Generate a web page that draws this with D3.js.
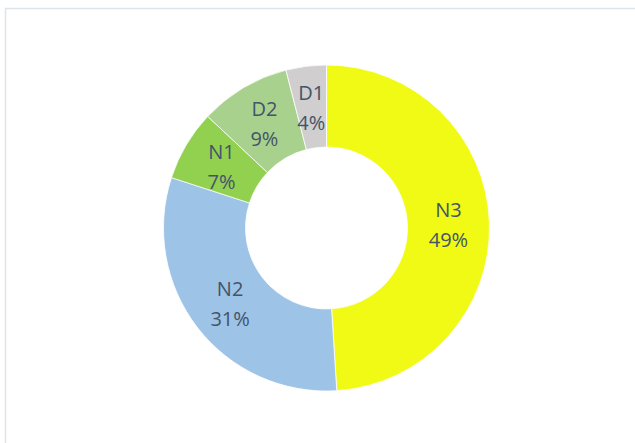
<!DOCTYPE html>
<html><head><meta charset="utf-8">
<script src="https://cdn.jsdelivr.net/npm/d3@7"></script>
<style>body{margin:0;background:#fff}svg{display:block}</style>
</head><body>
<script>
const categories = ["N3","N2","N1","D2","D1"];
const values = [49,31,7,9,4];
const colors = ["#f0fa14","#9dc3e6","#92d050","#a9d18e","#d0cece"];

const W=635,H=443;
const svg=d3.select("body").append("svg").attr("width",W).attr("height",H);
svg.append("rect").attr("x",5.5).attr("y",8.5).attr("width",W+10).attr("height",H+10)
  .attr("fill","#fff").attr("stroke","#dfe3ea").attr("stroke-width",1.5);

const cx=326.5,cy=228,R=163,r=81;
const data=categories.map((c,i)=>({c,v:values[i],col:colors[i]}));
const pie=d3.pie().value(d=>d.v).sort(null);
const arc=d3.arc().innerRadius(r).outerRadius(R);
const g=svg.append("g").attr("transform",`translate(${cx},${cy})`);
const arcs=pie(data);
g.selectAll("path").data(arcs).join("path").attr("d",arc)
  .attr("fill",d=>d.data.col).attr("stroke","#fff").attr("stroke-width",0.75);
const tot=d3.sum(values);
const lab=g.selectAll("text").data(arcs).join("text")
  .attr("transform",d=>`translate(${arc.centroid(d)})`)
  .attr("text-anchor","middle")
  .attr("font-family","'Open Sans', sans-serif").attr("font-size",20)
  .attr("fill","#44546a");
lab.append("tspan").attr("x",0).attr("y",-7).text(d=>d.data.c);
lab.append("tspan").attr("x",0).attr("y",23).text(d=>Math.round(d.data.v/tot*100)+"%");
</script>
</body></html>
